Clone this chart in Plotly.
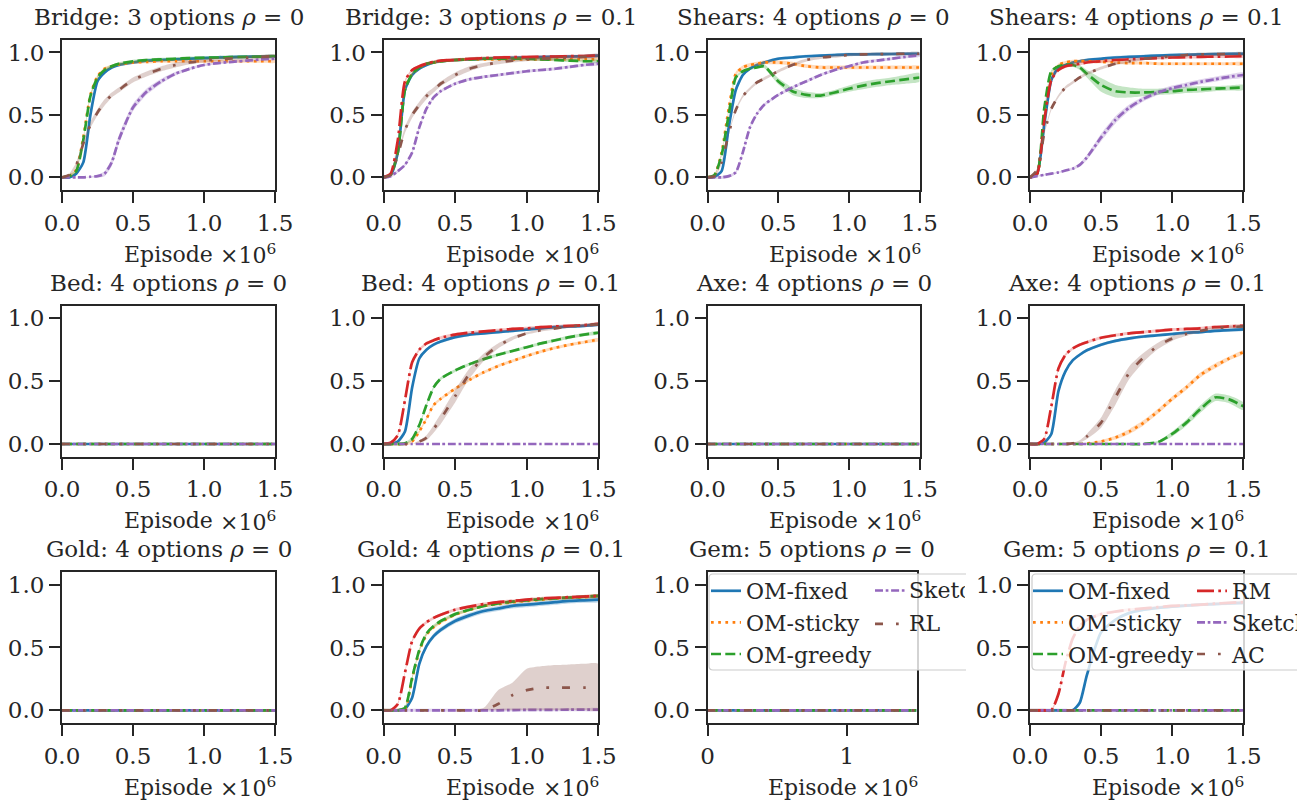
import plotly.graph_objects as go

FIG_W, FIG_H = 1297, 801
FONT = "DejaVu Serif"
INK = "#262626"

# ---------------- data ----------------
X = [0.0, 0.05, 0.1, 0.15, 0.2, 0.25, 0.3, 0.35, 0.4, 0.5, 0.6, 0.7, 0.8, 0.9, 1.0, 1.1, 1.2, 1.3, 1.4, 1.5]
ZERO = [0, 0, 0, 0, 0, 0, 0, 0, 0, 0, 0, 0, 0, 0, 0, 0, 0, 0, 0, 0]

BRIDGE0_FIXED = [0, 0.0, 0.03, 0.12, 0.5, 0.77, 0.84, 0.88, 0.9, 0.92, 0.935, 0.94, 0.945, 0.95, 0.955, 0.96, 0.963, 0.966, 0.968, 0.97]
BRIDGE0_STICKY = [0, 0.01, 0.06, 0.32, 0.66, 0.81, 0.87, 0.89, 0.905, 0.92, 0.925, 0.93, 0.93, 0.93, 0.93, 0.93, 0.93, 0.93, 0.93, 0.93]
BRIDGE0_GREEDY = [0, 0.01, 0.05, 0.3, 0.65, 0.8, 0.86, 0.89, 0.91, 0.93, 0.94, 0.945, 0.95, 0.955, 0.958, 0.96, 0.963, 0.965, 0.967, 0.97]
BRIDGE0_SKETCH = [0, 0, 0, 0, 0.005, 0.01, 0.03, 0.12, 0.3, 0.56, 0.69, 0.77, 0.83, 0.87, 0.9, 0.915, 0.925, 0.935, 0.945, 0.95]
BRIDGE0_RL = [0, 0.02, 0.1, 0.27, 0.42, 0.52, 0.6, 0.66, 0.7, 0.78, 0.83, 0.87, 0.9, 0.92, 0.935, 0.945, 0.952, 0.958, 0.965, 0.97]
BRIDGE0_SKETCH_SPREAD = [0, 0, 0, 0, 0.005, 0.01, 0.02, 0.03, 0.035, 0.03, 0.025, 0.02, 0.015, 0.012, 0.01, 0.01, 0.01, 0.01, 0.01, 0.01]
BRIDGE0_RL_SPREAD = [0, 0.01, 0.02, 0.025, 0.025, 0.025, 0.025, 0.02, 0.02, 0.02, 0.02, 0.02, 0.02, 0.015, 0.015, 0.015, 0.015, 0.015, 0.015, 0.015]

BRIDGE1_FIXED = [0, 0.02, 0.2, 0.7, 0.82, 0.87, 0.9, 0.92, 0.93, 0.94, 0.945, 0.95, 0.955, 0.958, 0.96, 0.963, 0.966, 0.968, 0.97, 0.975]
BRIDGE1_STICKY = [0, 0.02, 0.22, 0.72, 0.83, 0.88, 0.91, 0.92, 0.93, 0.94, 0.945, 0.945, 0.945, 0.945, 0.945, 0.945, 0.945, 0.945, 0.945, 0.945]
BRIDGE1_GREEDY = [0, 0.02, 0.2, 0.7, 0.83, 0.88, 0.91, 0.92, 0.93, 0.94, 0.945, 0.95, 0.95, 0.95, 0.95, 0.945, 0.94, 0.935, 0.93, 0.93]
BRIDGE1_RM = [0, 0.03, 0.3, 0.77, 0.86, 0.89, 0.91, 0.925, 0.935, 0.94, 0.95, 0.955, 0.96, 0.962, 0.964, 0.966, 0.968, 0.97, 0.972, 0.975]
BRIDGE1_SKETCH = [0, 0.01, 0.05, 0.1, 0.2, 0.4, 0.55, 0.64, 0.69, 0.75, 0.785, 0.805, 0.82, 0.835, 0.85, 0.86, 0.87, 0.885, 0.9, 0.91]
BRIDGE1_AC = [0, 0.02, 0.18, 0.38, 0.5, 0.58, 0.65, 0.7, 0.75, 0.82, 0.87, 0.9, 0.92, 0.935, 0.945, 0.95, 0.955, 0.96, 0.965, 0.97]
BRIDGE1_AC_SPREAD = [0, 0.01, 0.02, 0.025, 0.025, 0.025, 0.025, 0.02, 0.02, 0.02, 0.02, 0.015, 0.015, 0.015, 0.015, 0.015, 0.015, 0.015, 0.015, 0.015]

SHEARS0_FIXED = [0, 0.005, 0.05, 0.4, 0.7, 0.82, 0.87, 0.9, 0.92, 0.95, 0.96, 0.97, 0.975, 0.98, 0.985, 0.985, 0.987, 0.988, 0.99, 0.99]
SHEARS0_STICKY = [0, 0.02, 0.2, 0.55, 0.83, 0.88, 0.9, 0.91, 0.92, 0.92, 0.91, 0.89, 0.88, 0.88, 0.88, 0.88, 0.88, 0.88, 0.88, 0.88]
SHEARS0_GREEDY = [0, 0.02, 0.18, 0.5, 0.8, 0.85, 0.87, 0.88, 0.89, 0.77, 0.69, 0.66, 0.655, 0.68, 0.71, 0.735, 0.755, 0.77, 0.785, 0.8]
SHEARS0_SKETCH = [0, 0, 0, 0.01, 0.04, 0.2, 0.4, 0.51, 0.58, 0.66, 0.72, 0.77, 0.82, 0.86, 0.89, 0.92, 0.935, 0.95, 0.965, 0.978]
SHEARS0_RL = [0, 0.01, 0.12, 0.35, 0.54, 0.65, 0.71, 0.76, 0.79, 0.85, 0.9, 0.94, 0.96, 0.97, 0.98, 0.985, 0.987, 0.988, 0.99, 0.99]
SHEARS0_GREEDY_SPREAD = [0, 0.005, 0.01, 0.01, 0.01, 0.01, 0.01, 0.01, 0.015, 0.025, 0.03, 0.025, 0.02, 0.02, 0.025, 0.03, 0.03, 0.03, 0.035, 0.035]
SHEARS0_STICKY_SPREAD = [0, 0.01, 0.015, 0.015, 0.015, 0.015, 0.015, 0.015, 0.015, 0.015, 0.015, 0.015, 0.015, 0.015, 0.015, 0.015, 0.015, 0.015, 0.015, 0.015]

SHEARS1_FIXED = [0, 0.03, 0.42, 0.78, 0.88, 0.9, 0.92, 0.93, 0.94, 0.95, 0.96, 0.965, 0.97, 0.975, 0.98, 0.982, 0.985, 0.987, 0.989, 0.99]
SHEARS1_STICKY = [0, 0.03, 0.5, 0.82, 0.9, 0.92, 0.93, 0.93, 0.93, 0.925, 0.92, 0.915, 0.915, 0.91, 0.91, 0.91, 0.91, 0.91, 0.91, 0.91]
SHEARS1_GREEDY = [0, 0.03, 0.55, 0.85, 0.89, 0.9, 0.9, 0.88, 0.83, 0.74, 0.69, 0.68, 0.68, 0.685, 0.69, 0.7, 0.705, 0.71, 0.715, 0.72]
SHEARS1_RM = [0, 0.03, 0.45, 0.78, 0.86, 0.89, 0.9, 0.91, 0.92, 0.93, 0.94, 0.945, 0.95, 0.955, 0.96, 0.962, 0.965, 0.967, 0.968, 0.97]
SHEARS1_SKETCH = [0, 0.01, 0.02, 0.03, 0.04, 0.055, 0.07, 0.1, 0.16, 0.32, 0.46, 0.56, 0.63, 0.68, 0.715, 0.74, 0.765, 0.785, 0.805, 0.82]
SHEARS1_AC = [0, 0.06, 0.35, 0.55, 0.65, 0.72, 0.76, 0.8, 0.83, 0.875, 0.91, 0.93, 0.95, 0.96, 0.97, 0.98, 0.985, 0.987, 0.988, 0.99]
SHEARS1_GREEDY_SPREAD = [0, 0.005, 0.01, 0.01, 0.01, 0.01, 0.015, 0.02, 0.03, 0.055, 0.05, 0.04, 0.03, 0.025, 0.025, 0.025, 0.025, 0.02, 0.02, 0.02]
SHEARS1_SKETCH_SPREAD = [0, 0.005, 0.005, 0.005, 0.005, 0.01, 0.01, 0.015, 0.02, 0.03, 0.03, 0.025, 0.02, 0.02, 0.02, 0.02, 0.02, 0.02, 0.02, 0.02]

BED1_FIXED = [0, 0, 0.02, 0.1, 0.45, 0.68, 0.75, 0.79, 0.815, 0.85, 0.87, 0.88, 0.89, 0.9, 0.91, 0.92, 0.93, 0.935, 0.94, 0.95]
BED1_STICKY = [0, 0, 0, 0, 0.02, 0.1, 0.2, 0.31, 0.36, 0.44, 0.51, 0.57, 0.62, 0.66, 0.7, 0.735, 0.765, 0.79, 0.81, 0.83]
BED1_GREEDY = [0, 0, 0, 0.005, 0.04, 0.15, 0.31, 0.45, 0.52, 0.585, 0.635, 0.675, 0.71, 0.74, 0.77, 0.8, 0.825, 0.85, 0.87, 0.885]
BED1_RM = [0, 0.01, 0.07, 0.35, 0.65, 0.75, 0.8, 0.825, 0.845, 0.87, 0.885, 0.895, 0.905, 0.915, 0.92, 0.93, 0.935, 0.94, 0.945, 0.955]
BED1_AC = [0, 0, 0, 0, 0, 0.02, 0.05, 0.12, 0.2, 0.38, 0.56, 0.69, 0.78, 0.84, 0.88, 0.905, 0.92, 0.935, 0.945, 0.952]
BED1_AC_SPREAD = [0, 0, 0, 0, 0, 0.01, 0.02, 0.03, 0.04, 0.05, 0.04, 0.03, 0.02, 0.015, 0.01, 0.01, 0.01, 0.01, 0.01, 0.01]

AXE1_FIXED = [0, 0, 0.01, 0.08, 0.42, 0.58, 0.665, 0.71, 0.745, 0.79, 0.82, 0.84, 0.855, 0.865, 0.875, 0.885, 0.89, 0.9, 0.905, 0.912]
AXE1_STICKY = [0, 0, 0, 0, 0, 0, 0, 0, 0.005, 0.02, 0.05, 0.1, 0.17, 0.26, 0.36, 0.45, 0.55, 0.62, 0.68, 0.73]
AXE1_GREEDY = [0, 0, 0, 0, 0, 0, 0, 0, 0, 0, 0, 0, 0, 0.015, 0.08, 0.17, 0.28, 0.37, 0.355, 0.3]
AXE1_RM = [0, 0, 0.04, 0.3, 0.6, 0.71, 0.76, 0.79, 0.81, 0.845, 0.865, 0.88, 0.89, 0.9, 0.91, 0.915, 0.92, 0.93, 0.935, 0.94]
AXE1_AC = [0, 0, 0, 0, 0, 0, 0.005, 0.02, 0.06, 0.17, 0.37, 0.57, 0.69, 0.78, 0.84, 0.875, 0.9, 0.92, 0.93, 0.935]
AXE1_AC_SPREAD = [0, 0, 0, 0, 0, 0, 0.005, 0.01, 0.02, 0.04, 0.06, 0.05, 0.035, 0.025, 0.02, 0.015, 0.012, 0.01, 0.01, 0.01]
AXE1_GREEDY_SPREAD = [0, 0, 0, 0, 0, 0, 0, 0, 0, 0, 0, 0, 0, 0.01, 0.02, 0.025, 0.03, 0.03, 0.03, 0.03]
AXE1_STICKY_SPREAD = [0, 0, 0, 0, 0, 0, 0, 0, 0.005, 0.01, 0.015, 0.02, 0.02, 0.02, 0.02, 0.02, 0.02, 0.02, 0.015, 0.015]

GOLD1_FIXED = [0, 0, 0, 0.01, 0.1, 0.37, 0.51, 0.59, 0.64, 0.71, 0.755, 0.79, 0.81, 0.83, 0.84, 0.85, 0.86, 0.87, 0.875, 0.88]
GOLD1_STICKY = [0, 0, 0, 0.01, 0.25, 0.47, 0.6, 0.66, 0.7, 0.76, 0.8, 0.83, 0.845, 0.86, 0.87, 0.88, 0.89, 0.895, 0.9, 0.91]
GOLD1_GREEDY = [0, 0, 0, 0.02, 0.26, 0.48, 0.61, 0.67, 0.71, 0.765, 0.8, 0.83, 0.85, 0.865, 0.875, 0.885, 0.89, 0.897, 0.903, 0.91]
GOLD1_RM = [0, 0, 0.05, 0.3, 0.55, 0.65, 0.7, 0.735, 0.76, 0.8, 0.825, 0.845, 0.86, 0.87, 0.88, 0.89, 0.895, 0.9, 0.905, 0.91]
GOLD1_SKETCH = [0, 0, 0, 0, 0, 0, 0, 0, 0, 0, 0, 0, 0, 0.002, 0.003, 0.004, 0.004, 0.005, 0.005, 0.005]
GOLD1_AC = [0, 0, 0, 0, 0, 0, 0, 0, 0, 0, 0, 0, 0.05, 0.12, 0.16, 0.18, 0.18, 0.18, 0.18, 0.18]
GOLD1_AC_UPPER = [0, 0, 0, 0, 0, 0, 0, 0, 0, 0, 0, 0.02, 0.16, 0.22, 0.33, 0.35, 0.36, 0.365, 0.37, 0.37]
GOLD1_AC_LOWER = [0, 0, 0, 0, 0, 0, 0, 0, 0, 0, 0, 0, 0, 0, 0, 0, 0, 0, 0, 0]
GOLD1_FIXED_SPREAD = [0, 0, 0, 0.005, 0.015, 0.02, 0.02, 0.02, 0.02, 0.02, 0.02, 0.02, 0.02, 0.02, 0.02, 0.02, 0.02, 0.02, 0.02, 0.02]

GEM1_FIXED = [0, 0, 0, 0, 0, 0, 0, 0.06, 0.28, 0.62, 0.72, 0.775, 0.8, 0.815, 0.825, 0.833, 0.84, 0.845, 0.85, 0.855]
GEM1_RM = [0, 0, 0, 0, 0.13, 0.38, 0.57, 0.67, 0.72, 0.765, 0.785, 0.8, 0.81, 0.82, 0.83, 0.835, 0.84, 0.848, 0.855, 0.86]

BAND = 0.012

TITLES = ["Bridge: 3 options", "Bridge: 3 options", "Shears: 4 options", "Shears: 4 options",
          "Bed: 4 options", "Bed: 4 options", "Axe: 4 options", "Axe: 4 options",
          "Gold: 4 options", "Gold: 4 options", "Gem: 5 options", "Gem: 5 options"]
RHOS = ["0", "0.1", "0", "0.1", "0", "0.1", "0", "0.1", "0", "0.1", "0", "0.1"]
X_TICKS = [0, 0.5, 1.0, 1.5]
X_TICKTEXT = ["0.0", "0.5", "1.0", "1.5"]
GEM0_X_TICKS = [0, 1]
GEM0_X_TICKTEXT = ["0", "1"]
Y_TICKS = [0, 0.5, 1.0]
Y_TICKTEXT = ["0.0", "0.5", "1.0"]


def rho0(fixed, sticky, greedy, sketch, rl, sp=None):
    sp = sp or {}
    return [("OM-fixed", fixed, sp.get("fixed")), ("OM-sticky", sticky, sp.get("sticky")),
            ("OM-greedy", greedy, sp.get("greedy")), ("Sketch", sketch, sp.get("sketch")),
            ("RL", rl, sp.get("rl"))]


def rho1(fixed, sticky, greedy, rm, sketch, ac, sp=None):
    sp = sp or {}
    return [("OM-fixed", fixed, sp.get("fixed")), ("OM-sticky", sticky, sp.get("sticky")),
            ("OM-greedy", greedy, sp.get("greedy")), ("RM", rm, sp.get("rm")),
            ("Sketch", sketch, sp.get("sketch")), ("AC", ac, sp.get("ac"))]


PANEL_SERIES = [
    rho0(BRIDGE0_FIXED, BRIDGE0_STICKY, BRIDGE0_GREEDY, BRIDGE0_SKETCH, BRIDGE0_RL,
         {"sketch": BRIDGE0_SKETCH_SPREAD, "rl": BRIDGE0_RL_SPREAD}),
    rho1(BRIDGE1_FIXED, BRIDGE1_STICKY, BRIDGE1_GREEDY, BRIDGE1_RM, BRIDGE1_SKETCH, BRIDGE1_AC,
         {"ac": BRIDGE1_AC_SPREAD}),
    rho0(SHEARS0_FIXED, SHEARS0_STICKY, SHEARS0_GREEDY, SHEARS0_SKETCH, SHEARS0_RL,
         {"greedy": SHEARS0_GREEDY_SPREAD, "sticky": SHEARS0_STICKY_SPREAD}),
    rho1(SHEARS1_FIXED, SHEARS1_STICKY, SHEARS1_GREEDY, SHEARS1_RM, SHEARS1_SKETCH, SHEARS1_AC,
         {"greedy": SHEARS1_GREEDY_SPREAD, "sketch": SHEARS1_SKETCH_SPREAD}),
    rho0(ZERO, ZERO, ZERO, ZERO, ZERO),
    rho1(BED1_FIXED, BED1_STICKY, BED1_GREEDY, BED1_RM, ZERO, BED1_AC, {"ac": BED1_AC_SPREAD}),
    rho0(ZERO, ZERO, ZERO, ZERO, ZERO),
    rho1(AXE1_FIXED, AXE1_STICKY, AXE1_GREEDY, AXE1_RM, ZERO, AXE1_AC,
         {"ac": AXE1_AC_SPREAD, "greedy": AXE1_GREEDY_SPREAD, "sticky": AXE1_STICKY_SPREAD}),
    rho0(ZERO, ZERO, ZERO, ZERO, ZERO),
    rho1(GOLD1_FIXED, GOLD1_STICKY, GOLD1_GREEDY, GOLD1_RM, GOLD1_SKETCH, GOLD1_AC,
         {"ac": (GOLD1_AC_LOWER, GOLD1_AC_UPPER), "fixed": GOLD1_FIXED_SPREAD}),
    rho0(ZERO, ZERO, ZERO, ZERO, ZERO),
    rho1(GEM1_FIXED, ZERO, ZERO, GEM1_RM, ZERO, ZERO),
]

# ---------------- styles ----------------
COLORS = {"OM-fixed": (31, 119, 180), "OM-sticky": (255, 127, 14), "OM-greedy": (44, 160, 44),
          "RM": (214, 39, 40), "Sketch": (148, 103, 189), "RL": (140, 86, 75), "AC": (140, 86, 75)}
DASHES = {"OM-fixed": "solid", "OM-sticky": "2.7px,4.5px", "OM-greedy": "10px,4.3px",
          "RM": "17px,4.3px,2.7px,4.3px", "Sketch": "8px,2.7px,2.7px,2.7px",
          "RL": "8px,13px,2.7px,13px", "AC": "8px,13px,2.7px,13px"}
LW = 2.7

COL_L = [62.0, 383.5, 707.5, 1030.0]
COL_R = [275.0, 598.3, 919.5, 1243.3]
ROW_T = [40.0, 305.7, 572.0]
ROW_B = [190.0, 456.7, 723.0]


def fx(p):
    return p / FIG_W


def fy(p):
    return 1 - p / FIG_H


def rgba(c, a):
    return f"rgba({c[0]},{c[1]},{c[2]},{a})"


fig = go.Figure()
layout = {}
annotations = []
shapes = []
manual_legend = []  # entries drawn by hand (so that they can be clipped like the reference)

for i, series in enumerate(PANEL_SERIES):
    r, c = divmod(i, 4)
    n = i + 1
    xa = "x" if n == 1 else f"x{n}"
    ya = "y" if n == 1 else f"y{n}"
    left, right = COL_L[c], COL_R[c]
    top, bot = ROW_T[r], ROW_B[r]
    gem0 = (i == 10)
    if gem0:
        right = 917.0

    for k, (name, mean, band) in enumerate(series):
        col = COLORS[name]
        if band is None:
            is_zero = all(v == 0 for v in mean)
            spread = [0 if is_zero else BAND for _ in mean]
            lower = [m - s for m, s in zip(mean, spread)]
            upper = [m + s for m, s in zip(mean, spread)]
        elif isinstance(band, tuple):
            lower, upper = band
        else:
            lower = [m - s for m, s in zip(mean, band)]
            upper = [m + s for m, s in zip(mean, band)]
        if any(u - l > 0 for u, l in zip(upper, lower)):
            fig.add_trace(go.Scatter(
                x=X + X[::-1], y=upper + lower[::-1], xaxis=xa, yaxis=ya,
                fill="toself", fillcolor=rgba(col, 0.28),
                line=dict(width=0, shape="spline", smoothing=0.6),
                mode="lines", showlegend=False, hoverinfo="skip"))
        legend_id = None
        if i == 10:
            if k < 3:
                legend_id = "legend"
            else:
                manual_legend.append(name)
        elif i == 11:
            legend_id = "legend2" if k < 3 else "legend3"
        kw = {}
        if legend_id:
            kw["legend"] = legend_id
        fig.add_trace(go.Scatter(
            x=X, y=mean, xaxis=xa, yaxis=ya, mode="lines", name=name,
            line=dict(color=rgba(col, 1), width=LW, dash=DASHES[name], shape="spline", smoothing=0.6),
            showlegend=legend_id is not None, **kw))

    axis_common = dict(showline=True, linewidth=2, linecolor=INK, mirror=True, ticks="outside",
                       ticklen=11, tickwidth=2, tickcolor=INK, showgrid=False, zeroline=False,
                       tickfont=dict(family=FONT, size=23, color=INK))
    layout["xaxis" if n == 1 else f"xaxis{n}"] = dict(
        axis_common, domain=[fx(left), fx(right)], anchor=ya,
        range=[0, 1.505] if gem0 else [0, 1.5],
        tickvals=GEM0_X_TICKS if gem0 else X_TICKS,
        ticktext=GEM0_X_TICKTEXT if gem0 else X_TICKTEXT)
    layout["yaxis" if n == 1 else f"yaxis{n}"] = dict(
        axis_common, domain=[fy(bot), fy(top)], anchor=xa,
        range=[-0.101, 1.1], tickvals=Y_TICKS, ticktext=Y_TICKTEXT)

    cx = (left + right) / 2
    annotations.append(dict(
        text=f"{TITLES[i]} <i>ρ</i> = {RHOS[i]}", x=fx(cx), y=fy(top - 23), xref="paper", yref="paper",
        xanchor="center", yanchor="middle", showarrow=False, font=dict(family=FONT, size=23, color=INK)))
    annotations.append(dict(
        text="Episode", x=fx(cx), y=fy(bot + 64), xref="paper", yref="paper",
        xanchor="center", yanchor="middle", showarrow=False, font=dict(family=FONT, size=22, color=INK)))
    annotations.append(dict(
        text="×10<sup>6</sup>", x=fx(right + 3), y=fy(bot + 64), xref="paper", yref="paper",
        xanchor="right", yanchor="middle", showarrow=False, font=dict(family=FONT, size=22, color=INK)))


def frame_path(x0, y0, x1, y1, rad, close=True):
    def P(px, py):
        return f"{fx(px):.6f},{fy(py):.6f}"
    if close:
        return (f"M{P(x0 + rad, y0)} L{P(x1 - rad, y0)} Q{P(x1, y0)} {P(x1, y0 + rad)} "
                f"L{P(x1, y1 - rad)} Q{P(x1, y1)} {P(x1 - rad, y1)} L{P(x0 + rad, y1)} "
                f"Q{P(x0, y1)} {P(x0, y1 - rad)} L{P(x0, y0 + rad)} Q{P(x0, y0)} {P(x0 + rad, y0)} Z")
    return (f"M{P(x1, y0)} L{P(x0 + rad, y0)} Q{P(x0, y0)} {P(x0, y0 + rad)} "
            f"L{P(x0, y1 - rad)} Q{P(x0, y1)} {P(x0 + rad, y1)} L{P(x1, y1)}")


for (x0, x1) in [(709, 966), (1032, 1310)]:
    shapes.append(dict(type="path", xref="paper", yref="paper", layer="above",
                       path=frame_path(x0, 574, x1, 670, 4), fillcolor="rgba(255,255,255,0.8)",
                       line=dict(width=0)))
    shapes.append(dict(type="path", xref="paper", yref="paper", layer="above",
                       path=frame_path(x0, 574, x1, 670, 4, close=False),
                       line=dict(color="#cccccc", width=1.2)))

# second legend column of the "Gem rho=0" panel: clipped at the frame edge as in the reference
for j, name in enumerate(manual_legend):
    yrow = 590.5 + j * 33.3
    shapes.append(dict(type="line", xref="paper", yref="paper", layer="above",
                       x0=fx(875), x1=fx(905), y0=fy(yrow), y1=fy(yrow),
                       line=dict(color=rgba(COLORS[name], 1), width=LW, dash=DASHES[name])))
    annotations.append(dict(
        text=name, x=fx(907), y=fy(yrow), xref="paper", yref="paper", xanchor="left", yanchor="middle",
        width=56, align="left", showarrow=False, font=dict(family=FONT, size=22, color=INK)))

legend_common = dict(xref="paper", yref="paper", xanchor="left", yanchor="top",
                     bgcolor="rgba(0,0,0,0)", borderwidth=0, orientation="v",
                     font=dict(family=FONT, size=22, color=INK), itemwidth=30, tracegroupgap=0)
layout["legend"] = dict(legend_common, x=fx(706), y=fy(570))
layout["legend2"] = dict(legend_common, x=fx(1028), y=fy(570))
layout["legend3"] = dict(legend_common, x=fx(1192), y=fy(570))

fig.update_layout(
    width=FIG_W, height=FIG_H, autosize=False,
    margin=dict(l=0, r=0, t=0, b=0, autoexpand=False),
    paper_bgcolor="white", plot_bgcolor="white",
    font=dict(family=FONT, size=23, color=INK),
    annotations=annotations, shapes=shapes,
    **layout)

fig.write_html("out.html", config={"displayModeBar": False},
               post_script="document.body.style.margin='0';document.body.style.overflow='hidden';")
